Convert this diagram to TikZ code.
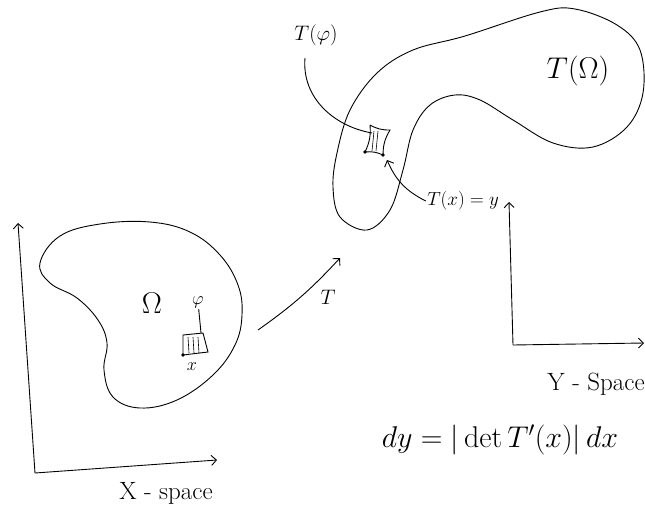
\RequirePackage{fix-cm}
\documentclass[tikz,border=0pt]{standalone}
\usetikzlibrary{arrows.meta}
\begin{document}
\begin{tikzpicture}[x=1pt,y=-1pt,line width=0.9pt,>={Straight Barb[length=5pt,width=10pt]},
	lbl/.style={inner sep=1pt,font=\fontsize{21}{23}\selectfont},
	big/.style={inner sep=1pt,font=\fontsize{30}{32}\selectfont},
	space/.style={inner sep=1pt,font=\fontsize{25}{27}\selectfont},
	dot/.style={circle,fill,inner sep=1.4pt}]
		\useasboundingbox (0,0) rectangle (645,506);
		% the two regions
		\draw plot[smooth cycle,tension=0.65] coordinates {(40,263) (60,236) (100,224) (150,222) (190,232) (220,255) (238,285) (242,315) (235,345) (213,375) (177,400) (140,408) (113,397) (104,370) (107,343) (98,320) (77,298) (50,283)};
		\draw plot[smooth cycle,tension=0.6] coordinates {(367,230) (340,217) (333,187) (337,153) (350,110) (377,73) (413,50) (465,36) (540,12) (575,9) (617,25) (640,50) (643,93) (627,127) (593,147) (553,143) (513,120) (480,100) (455,95) (430,105) (413,130) (403,170) (390,210)};
		% small cell in X
		\draw (183,335) -- (203,333) -- (208,352) -- (183,355) -- cycle;
		\foreach \hx in {188,193,198} \draw[line width=0.6pt] (\hx,337) -- (\hx+1,353);
		\coordinate(cx) at (183,355);
		\node[dot] at (cx){};
		\node[lbl,font=\fontsize{18}{20}\selectfont](xlab) at (192,367){$x$};
		\node[lbl,font=\fontsize{18}{20}\selectfont](phi) at (198,302){$\varphi$};
		\coordinate(celltop) at (201,333);
		\draw (phi) -- (celltop);
		\node[big](omega) at (152,303){$\Omega$};
		% image cell in Y
		\draw (370,125) to[bend right=15] (390,130) to[bend right=15] (383,155) to[bend right=15] (365,152) to[bend right=15] (370,125);
		\foreach \hx in {374,378} \draw[line width=0.6pt] (\hx,131) -- (\hx-2,151);
		\coordinate(cy) at (383,155);
		\node[dot] at (cy){};
		\node[dot] at (365,152){};
		\coordinate(cellend) at (372,133);
		\node[lbl](tphi) at (316,35){$T(\varphi)$};
		\node[big](tomega) at (578,71){$T(\Omega)$};
		\node[lbl,font=\fontsize{19}{21}\selectfont](txy) at (463,201){$T(x)=y$};
		\coordinate(tstart) at (305,58);
		\draw (tstart) to[out=-95,in=170] (cellend);
		\coordinate(arrowend) at (387,160);
		\draw[->] (txy.west) to[bend left=20] (arrowend);
		% the map T
		\coordinate(ta) at (258,330);
		\coordinate(tb) at (340,258);
		\draw[->] (ta) to[bend right=6] (tb);
		\node[lbl](tlab) at (328,297){$T$};
		% axes
		\coordinate(xo) at (35,473);
		\coordinate(xv) at (18,223);
		\coordinate(xh) at (217,460);
		\draw[->] (xo) -- (xv);
		\draw[->] (xo) -- (xh);
		\node[space](xspace) at (166,493){X - space};
		\coordinate(yo) at (513,345);
		\coordinate(yv) at (509,202);
		\coordinate(yh) at (644,343);
		\draw[->] (yo) -- (yv);
		\draw[->] (yo) -- (yh);
		\node[space,anchor=west](yspace) at (546,384){Y - Space};
		\node[big](eq) at (500,440){$dy = |\det T'(x)|\, dx$};
		\end{tikzpicture}
\end{document}
